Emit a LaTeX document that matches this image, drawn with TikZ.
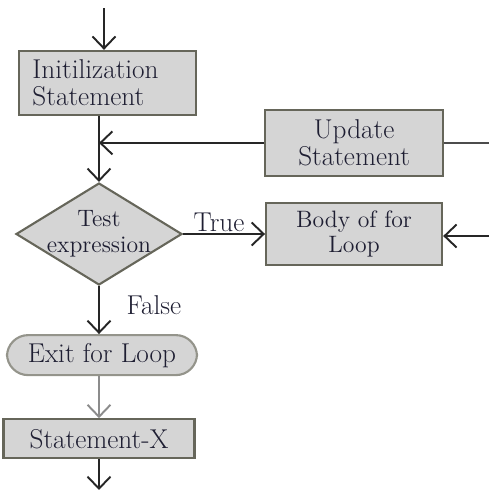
\documentclass[tikz,border=0pt]{standalone}
\usepackage{xcolor}
\usetikzlibrary{shapes.geometric, arrows.meta, positioning}

\definecolor{boxfill}{HTML}{D5D5D5}
\definecolor{boxline}{HTML}{66665A}
\definecolor{txt}{HTML}{1E1E32}

\tikzset{
    box/.style={draw=boxline, fill=boxfill, line width=1.2pt, text=txt,
        font=\fontsize{15.5}{15.5}\selectfont, inner sep=2pt},
    decision/.style={diamond, draw=boxline, fill=boxfill, line width=1.2pt, text=txt,
        font=\fontsize{13.5}{14.7}\selectfont, align=center, aspect=1.63, inner sep=-2.5pt,
        minimum width=3.32cm, minimum height=2.04cm},
    flow/.style={line width=1.1pt, draw=black!85, -{Straight Barb[length=2.4mm, width=4.6mm, line width=1.1pt]}},
    lbl/.style={text=txt, font=\fontsize{15.5}{15.5}\selectfont, inner sep=1pt}
}

\begin{document}
\begin{tikzpicture}
    \useasboundingbox (0,0) rectangle (9.78,-9.8);

    \node[decision] (test) at (1.98,-4.68) {Test\\expression};
    \node[box, align=left, text width=3.0cm, minimum width=3.54cm, minimum height=1.28cm,
          above=1.32cm of test, xshift=0.17cm] (init) {Initilization\\Statement};
    \node[box, align=center, minimum width=3.52cm, minimum height=1.24cm,
          font=\fontsize{13.5}{14.7}\selectfont,
          right=1.64cm of test] (body) {Body of for\\Loop};
    \node[box, align=center, minimum width=3.56cm, minimum height=1.32cm,
          above=0.5cm of body] (update) {Update\\Statement};
    \node[box, rounded corners=12pt, draw=boxline!70, minimum width=3.8cm, minimum height=0.8cm,
          below=0.96cm of test, xshift=0.06cm] (exit) {Exit for Loop};
    \node[box, minimum width=3.82cm, minimum height=0.78cm,
          below=0.84cm of exit, xshift=-0.06cm] (statx) {Statement-X};

    \coordinate (start) at (2.08,-0.16);
    \coordinate (loopin) at (9.78,-2.86);
    \coordinate (bodyin) at (9.78,-4.72);
    \coordinate (finish) at (1.98,-9.8);

    % main line
    \draw[flow] (start) -- (start |- init.north);
    \draw[flow] (test.north |- init.south) -- (test.north);
    \draw[flow] (test.east) -- node[lbl, above, xshift=-0.1cm] (true) {True} (body.west);
    \draw[flow] (test.south) -- node[lbl, right, pos=0.4, xshift=0.5cm] (false) {False} (test.south |- exit.north);
    \draw[flow, draw=black!45] (statx.north |- exit.south) -- (statx.north);
    \draw[flow] (statx.south) -- (finish);

    % loop back
    \draw[line width=1.4pt, draw=black!70] (loopin) -- (loopin -| update.east);
    \draw[flow] (update.west) -- (test.north |- update.west);
    \draw[flow] (bodyin) -- (bodyin -| body.east);
\end{tikzpicture}
\end{document}
